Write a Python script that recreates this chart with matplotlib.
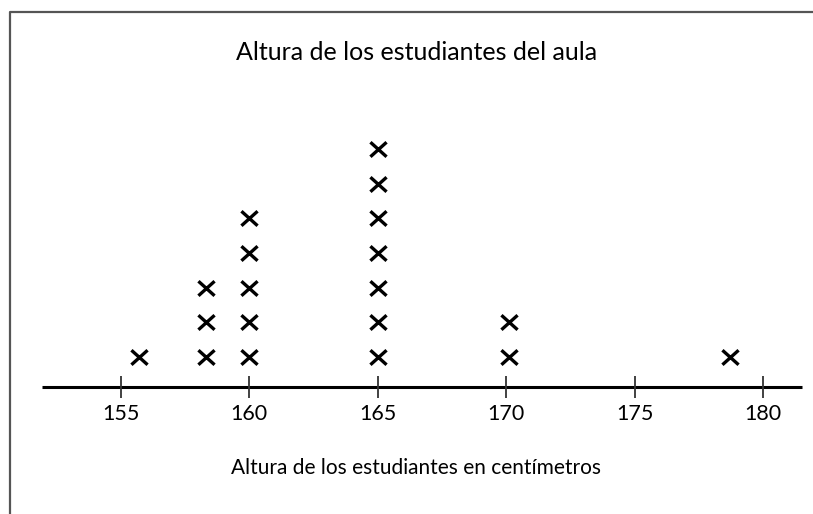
import matplotlib
matplotlib.use("Agg")
import matplotlib.pyplot as plt
from matplotlib.lines import Line2D
from matplotlib.path import Path

plt.rcParams['font.family'] = ['Lato', 'DejaVu Sans']

# heights (cm), one entry per student
heights = [155.7, 158.3, 158.3, 158.3, 160, 160, 160, 160, 160,
           165, 165, 165, 165, 165, 165, 165, 170.1, 170.1, 178.7]
ticks = [155, 160, 165, 170, 175, 180]
title = "Altura de los estudiantes del aula"
xlabel = "Altura de los estudiantes en centímetros"

fig = plt.figure(figsize=(8.13, 5.14), dpi=100)
ax = fig.add_axes([0, 0, 1, 1])
ax.set_xlim(150.29, 181.95)
ax.set_ylim(-3.66, 11.15)
ax.axis("off")

# an "x" shaped like the typed letter
xmark = Path([(-1, -0.9), (1, 0.9), (-1, 0.9), (1, -0.9)],
             [Path.MOVETO, Path.LINETO, Path.MOVETO, Path.LINETO])

# stack repeated values
xs, ys, seen = [], [], {}
for h in heights:
    seen[h] = seen.get(h, 0) + 1
    xs.append(h)
    ys.append(seen[h] - 0.14)
ax.scatter(xs, ys, marker=xmark, s=135, linewidths=2.4, color="black", zorder=3)

# number line
ax.plot([151.92, 181.52], [0, 0], color="black", lw=2.2, solid_capstyle="butt")
ax.vlines(ticks, -0.33, 0.33, color="#333333", lw=1.3)
for t in ticks:
    ax.text(t, -0.78, str(t), ha="center", va="center", fontsize=15.5)

ax.text(166.5, 9.65, title, ha="center", va="center", fontsize=18)
ax.text(166.5, -2.33, xlabel, ha="center", va="center", fontsize=15)

# frame around the figure (left and top edges visible)
fig.add_artist(Line2D([10 / 813, 10 / 813, 1], [0, 1 - 12 / 514, 1 - 12 / 514],
                      transform=fig.transFigure, color="#555555", lw=1.6))

fig.savefig("out.png", dpi=100)
